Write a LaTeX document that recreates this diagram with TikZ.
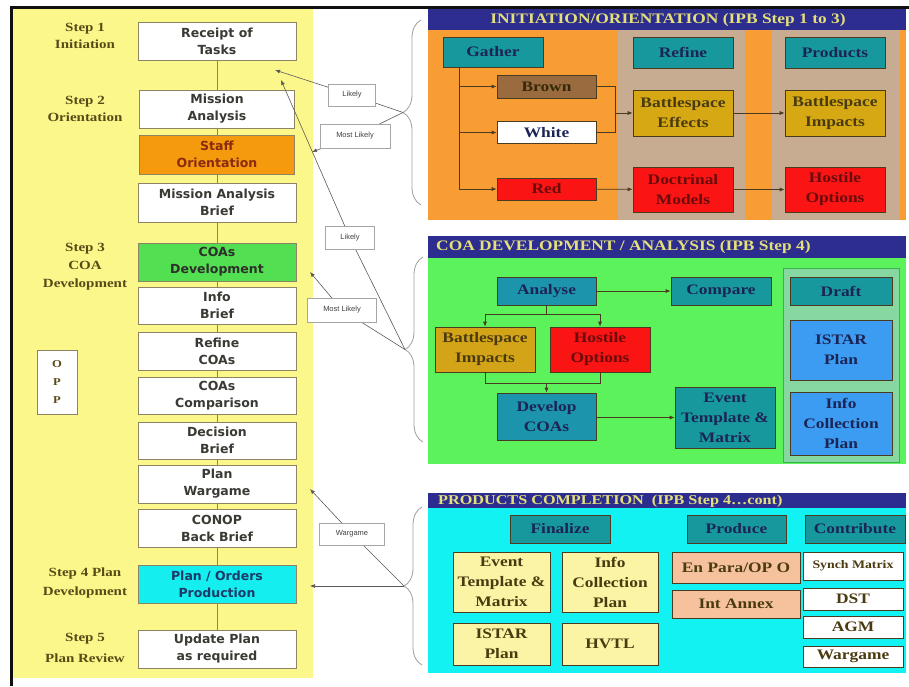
\documentclass[tikz,border=0pt]{standalone}
\usepackage{fontspec}
\setmainfont{Liberation Serif}
\newfontfamily\serifwide[FakeStretch=1.2]{Liberation Serif}
\newfontfamily\boxsans{DejaVu Sans}
\newfontfamily\tagsans{Liberation Sans}
\usetikzlibrary{arrows.meta,decorations.pathreplacing}

\definecolor{padyellow}{HTML}{FCF78A}
\definecolor{frameblack}{HTML}{101010}
\definecolor{boxline}{HTML}{8C8462}
\definecolor{boxtext}{HTML}{3A3A34}
\definecolor{steptext}{HTML}{5A4A18}
\definecolor{stafforange}{HTML}{F49A0C}
\definecolor{stafftext}{HTML}{8A2A10}
\definecolor{coagreen}{HTML}{52E052}
\definecolor{prodcyan}{HTML}{14EEEE}
\definecolor{prodtext}{HTML}{1C3A6A}
\definecolor{titlenavy}{HTML}{2D2D90}
\definecolor{titletext}{HTML}{E4E07A}
\definecolor{initorange}{HTML}{F89C34}
\definecolor{tancol}{HTML}{C8AC92}
\definecolor{tealhdr}{HTML}{17989C}
\definecolor{tealblue}{HTML}{1C94AC}
\definecolor{brownbox}{HTML}{9A6B3E}
\definecolor{goldbox}{HTML}{D5A814}
\definecolor{redbox}{HTML}{FA1414}
\definecolor{devgreen}{HTML}{5CF25C}
\definecolor{draftpane}{HTML}{86D8A0}
\definecolor{draftline}{HTML}{3CB050}
\definecolor{bluebox}{HTML}{3C9CF2}
\definecolor{compcyan}{HTML}{12F2F2}
\definecolor{paleyellow}{HTML}{FAF4A4}
\definecolor{peach}{HTML}{F6C29E}
\definecolor{rline}{HTML}{4A3A20}
\definecolor{navytext}{HTML}{1C2456}
\definecolor{darkred}{HTML}{6A0C0C}
\definecolor{olivetext}{HTML}{4A3A10}
\definecolor{wireline}{HTML}{5A5A5A}

\begin{document}
\begin{tikzpicture}[x=1pt,y=-1pt,
  sz/.style 2 args={minimum width=#1pt, minimum height=#2pt},
  lbox/.style={draw=boxline, line width=0.8pt, fill=white, inner sep=0pt, align=center,
    font=\boxsans\bfseries\fontsize{12.5}{17}\selectfont, text=boxtext, sz={158}{38}},
  steplbl/.style={align=center, inner sep=0pt, text=steptext,
    font=\serifwide\bfseries\fontsize{12.5}{17}\selectfont},
  rbox/.style={draw=rline, line width=0.6pt, inner sep=0pt, align=center,
    font=\serifwide\bfseries\fontsize{14.5}{20}\selectfont, text=navytext},
  hdr/.style={rbox, fill=tealhdr, sz={100}{30}},
  ttl/.style={inner sep=0pt, text=titletext, font=\serifwide\bfseries\fontsize{14.5}{16}\selectfont},
  spine/.style={draw=boxline, line width=0.7pt},
  plain/.style={draw=rline, line width=0.7pt},
  arr/.style={draw=rline, line width=0.7pt, -{Latex[length=5pt,width=4pt]}},
  ptr/.style={draw=wireline, line width=0.6pt, -{Latex[length=5pt,width=4pt]}},
  bracket/.style={draw=gray!75, line width=0.8pt, decorate,
    decoration={brace, amplitude=18pt, aspect=0.5}},
  tag/.style={draw=gray!70, fill=white, inner sep=0pt, text=gray!50!black,
    font=\tagsans\fontsize{7.5}{8}\selectfont}
]
\useasboundingbox (0,0) rectangle (909,686);
\fill[white] (0,0) rectangle (909,686);

% ---------------- process column ----------------
\fill[padyellow] (12,9) rectangle (313,678);
\draw[frameblack, line width=3pt] (11,686) -- (11,7) -- (909,7);

\node[steplbl] (s1) at (85,35.5) {Step 1\\Initiation};
\node[steplbl] (s2) at (85,108.5) {Step 2\\Orientation};
\node[steplbl, font=\serifwide\bfseries\fontsize{12.5}{18}\selectfont] (s3) at (85,267) {Step 3\\COA\\Development};
\node[steplbl, font=\serifwide\bfseries\fontsize{12.5}{19}\selectfont] (s4) at (85,582.5) {Step 4 Plan\\Development};
\node[steplbl, font=\serifwide\bfseries\fontsize{12.5}{21}\selectfont] (s5) at (85,647.5) {Step 5\\Plan Review};

\node[lbox, sz={40}{64}, text=steptext, font=\serifwide\bfseries\fontsize{10.5}{18}\selectfont] (opp) at (57,382) {O\\P\\P};

\node[lbox] (rot) at (217,41) {Receipt of\\Tasks};
\node[lbox, sz={155}{38}] (ma) at (217,109) {Mission\\Analysis};
\node[lbox, sz={155}{39}, fill=stafforange, text=stafftext] (so) at (217,154.5) {Staff\\Orientation};
\node[lbox, sz={158}{39}] (mab) at (217,202.5) {Mission Analysis\\Brief};
\node[lbox, fill=coagreen, text=boxtext!80!black] (coad) at (217,262) {COAs\\Development};
\node[lbox, sz={158}{37}] (ib) at (217,305.5) {Info\\Brief};
\node[lbox] (rc) at (217,351) {Refine\\COAs};
\node[lbox, sz={158}{37}] (cc) at (217,395.5) {COAs\\Comparison};
\node[lbox, sz={158}{37}] (db) at (217,440.5) {Decision\\Brief};
\node[lbox] (pw) at (217,484) {Plan\\Wargame};
\node[lbox] (cbb) at (217,528) {CONOP\\Back Brief};
\node[lbox, fill=prodcyan, text=prodtext] (pop) at (217,584) {Plan / Orders\\Production};
\node[lbox] (upd) at (217,649) {Update Plan\\as required};

\foreach \a/\b in {rot/ma, ma/so, so/mab, mab/coad, coad/ib, ib/rc, rc/cc, cc/db, db/pw, pw/cbb, cbb/pop, pop/upd}
  \draw[spine] (\a.south) -- (\b.north);

% ---------------- initiation / orientation panel ----------------
\fill[initorange] (428,10) rectangle (906,220);
\fill[tancol] (618,30) rectangle (745,220);
\fill[tancol] (772,30) rectangle (900,220);
\fill[titlenavy] (428,9) rectangle (906,30);
\node[ttl] (t1) at (668,20) {INITIATION/ORIENTATION (IPB Step 1 to 3)};

\node[hdr] (gather) at (493,52) {Gather};
\node[hdr, sz={100}{31}] (refine) at (683,52.5) {Refine};
\node[hdr, sz={100}{31}] (products) at (835,52.5) {Products};
\node[rbox, fill=brownbox, text=olivetext!70!black, sz={99}{23}] (brown) at (546.5,86.5) {Brown};
\node[rbox, fill=white, sz={99}{22}] (white) at (546.5,132.5) {White};
\node[rbox, fill=redbox, text=darkred, sz={99}{22}] (red) at (546.5,189) {Red};
\node[rbox, fill=goldbox, text=olivetext, sz={100}{46}] (be) at (683,113) {Battlespace\\Effects};
\node[rbox, fill=goldbox, text=olivetext, sz={100}{46}] (bi) at (835,113) {Battlespace\\Impacts};
\node[rbox, fill=redbox, text=darkred, sz={100}{45}] (dm) at (683,189.5) {Doctrinal\\Models};
\node[rbox, fill=redbox, text=darkred, sz={100}{45}] (ho) at (835,189.5) {Hostile\\Options};

\coordinate (gtrunk) at (459,67);
\draw[arr] (gtrunk) |- (red.west);
\draw[arr] (gtrunk |- brown.west) -- (brown.west);
\draw[arr] (gtrunk |- white.west) -- (white.west);
\coordinate (bwjoin) at (615,113);
\draw[plain] (brown.east) -| (bwjoin);
\draw[plain] (white.east) -| (bwjoin);
\draw[arr] (bwjoin) -- (be.west);
\draw[arr] (be) -- (bi);
\draw[arr] (red) -- (dm);
\draw[arr] (dm) -- (ho);

% ---------------- COA development / analysis panel ----------------
\fill[devgreen] (428,236) rectangle (906,464);
\fill[titlenavy] (428,236) rectangle (906,258);
\node[ttl, anchor=west] (t2) at (436,247.5) {COA DEVELOPMENT / ANALYSIS (IPB Step 4)};
\filldraw[fill=draftpane, draw=draftline, line width=1pt] (783,268) rectangle (899,462);

\node[hdr, fill=tealblue, sz={99}{28}] (analyse) at (546.5,291) {Analyse};
\node[hdr, sz={100}{28}] (compare) at (721,291) {Compare};
\node[hdr, sz={102}{28}] (draft) at (841,291) {Draft};
\node[rbox, fill=bluebox, sz={102}{60}] (istar) at (841,350) {ISTAR\\Plan};
\node[rbox, fill=bluebox, sz={102}{63}] (icp) at (841,423.5) {Info\\Collection\\Plan};
\node[rbox, fill=goldbox!90!brown, text=olivetext, sz={100}{45}] (bim) at (485,349.5) {Battlespace\\Impacts};
\node[rbox, fill=redbox, text=darkred, sz={100}{45}] (hos) at (600,349.5) {Hostile\\Options};
\node[hdr, fill=tealblue, sz={99}{47}] (dev) at (546.5,416.5) {Develop\\COAs};
\node[hdr, sz={100}{61}] (etm) at (725,417.5) {Event\\Template \&\\Matrix};

\draw[plain] (analyse.south) -- ++(0,9) coordinate (asplit);
\draw[arr] (asplit) -| (bim.north);
\draw[arr] (asplit) -| (hos.north);
\coordinate (dmerge) at (546.5,383);
\draw[plain] (bim.south) |- (dmerge);
\draw[plain] (hos.south) |- (dmerge);
\draw[arr] (dmerge) -- (dev.north);
\draw[arr] (analyse) -- (compare);
\draw[arr] (dev.east |- etm.west) -- (etm.west);

% ---------------- products completion panel ----------------
\fill[compcyan] (428,493) rectangle (906,673);
\fill[titlenavy] (428,493) rectangle (906,508);
\node[ttl, anchor=west, font=\serifwide\bfseries\fontsize{13.5}{15}\selectfont] (t3) at (438,501) {PRODUCTS COMPLETION\ \ (IPB Step 4\dots cont)};

\node[hdr, sz={100}{28}] (fin) at (560,529) {Finalize};
\node[hdr, sz={99}{28}] (prod) at (736.5,529) {Produce};
\node[hdr, sz={100}{28}] (contr) at (855,529) {Contribute};
\node[rbox, fill=paleyellow, text=olivetext, sz={97}{60}] (etm2) at (501.5,582) {Event\\Template \&\\Matrix};
\node[rbox, fill=paleyellow, text=olivetext, sz={96}{60}] (icp2) at (610,582) {Info\\Collection\\Plan};
\node[rbox, fill=paleyellow, text=olivetext, sz={97}{42}] (istar2) at (501.5,644) {ISTAR\\Plan};
\node[rbox, fill=paleyellow, text=olivetext, sz={96}{42}] (hvtl) at (610,644) {HVTL};
\node[rbox, fill=peach, text=olivetext, sz={128}{31}] (enpara) at (736,567.5) {En Para/OP O};
\node[rbox, fill=peach, text=olivetext, sz={128}{28}] (intann) at (736,604) {Int Annex};
\node[rbox, fill=white, text=olivetext, sz={100}{28}, font=\serifwide\bfseries\fontsize{11.5}{13}\selectfont] (synch) at (853,566) {Synch Matrix};
\node[rbox, fill=white, text=olivetext, sz={100}{22}] (dst) at (853,599) {DST};
\node[rbox, fill=white, text=olivetext, sz={100}{22}] (agm) at (853,627) {AGM};
\node[rbox, fill=white, text=olivetext, sz={100}{21}] (warg) at (853,656.5) {Wargame};

% ---------------- braces and pointers ----------------
\draw[bracket] (421,205) -- (421,20);
\draw[bracket] (423,442) -- (423,257);
\draw[bracket] (422,665) -- (422,507);
\coordinate (tipA) at (403,112.5);
\coordinate (tipB) at (405,349.5);
\coordinate (tipC) at (404,586);

\coordinate (endA1) at (275,70);
\coordinate (endA2) at (312,152);
\coordinate (endB1) at (281,80);
\coordinate (endB2) at (310,272);
\coordinate (endC1) at (310,489);
\coordinate (endC2) at (310,586);

\coordinate (lk1pos) at (352,95);
\coordinate (ml1pos) at (355,136);
\coordinate (lk2pos) at (350,238);
\coordinate (ml2pos) at (342,310);
\coordinate (wgpos) at (352,534);

\draw[ptr] (tipA) -- (lk1pos) -- (endA1);
\draw[ptr] (tipA) -- (ml1pos) -- (endA2);
\draw[ptr] (tipB) -- (lk2pos) -- (endB1);
\draw[ptr] (tipB) -- (ml2pos) -- (endB2);
\draw[ptr] (tipC) -- (wgpos) -- (endC1);
\draw[ptr] (tipC) -- (endC2);

\node[tag, sz={47}{22}] (lk1) at (lk1pos) {Likely};
\node[tag, sz={70}{24}] (ml1) at (ml1pos) {Most Likely};
\node[tag, sz={49}{23}] (lk2) at (lk2pos) {Likely};
\node[tag, sz={69}{24}] (ml2) at (ml2pos) {Most Likely};
\node[tag, sz={65}{22}] (wg) at (wgpos) {Wargame};
\end{tikzpicture}
\end{document}
